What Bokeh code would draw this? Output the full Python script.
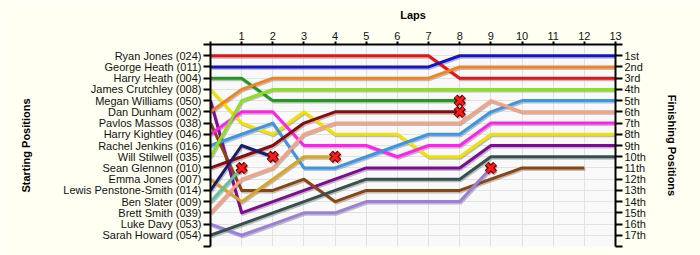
from bokeh.plotting import figure
from bokeh.models import Range1d, LinearAxis, FixedTicker
from bokeh.embed import file_html
from bokeh.resources import INLINE

# ---------------- data ----------------
laps = list(range(14))
lap_tick_labels = ["", "1", "2", "3", "4", "5", "6", "7", "8", "9", "10", "11", "12", "13"]

drivers = ["Ryan Jones (024)", "George Heath (011)", "Harry Heath (004)", "James Crutchley (008)",
           "Megan Williams (050)", "Dan Dunham (002)", "Pavlos Massos (038)", "Harry Kightley (046)",
           "Rachel Jenkins (016)", "Will Stilwell (035)", "Sean Glennon (010)", "Emma Jones (007)",
           "Lewis Penstone-Smith (014)", "Ben Slater (009)", "Brett Smith (039)", "Luke Davy (053)",
           "Sarah Howard (054)"]
finish_labels = ["1st", "2nd", "3rd", "4th", "5th", "6th", "7th", "8th", "9th", "10th",
                 "11th", "12th", "13th", "14th", "15th", "16th", "17th"]

colors = ["#E41414", "#1414CC", "#229A22", "#F2E200", "#7E0A96", "#F5821F", "#8B4513", "#FF22EE",
          "#3A96E8", "#8CE01E", "#8B0A0A", "#DAA520", "#1C1C6E", "#5EC4A2", "#F8A080", "#9A80DC",
          "#35504E"]

pos_ryan     = [1, 1, 1, 1, 1, 1, 1, 1, 3, 3, 3, 3, 3, 3]
pos_george   = [2, 2, 2, 2, 2, 2, 2, 2, 1, 1, 1, 1, 1, 1]
pos_harryh   = [3, 3, 5, 5, 5, 5, 5, 5, 5]
pos_james    = [4, 7, 8, 6, 8, 8, 8, 10, 10, 8, 8, 8, 8, 8]
pos_megan    = [5, 15, 14, 13, 12, 11, 11, 11, 11, 9, 9, 9, 9, 9]
pos_dan      = [6, 4, 3, 3, 3, 3, 3, 3, 2, 2, 2, 2, 2, 2]
pos_pavlos   = [7, 13, 13, 12, 14, 13, 13, 13, 13, 12, 11, 11, 11]
pos_kightley = [8, 6, 6, 9, 9, 9, 10, 9, 9, 7, 7, 7, 7, 7]
pos_rachel   = [9, 8, 7, 11, 11, 10, 9, 8, 8, 6, 5, 5, 5, 5]
pos_will     = [10, 5, 4, 4, 4, 4, 4, 4, 4, 4, 4, 4, 4, 4]
pos_sean     = [11, 10, 9, 7, 6, 6, 6, 6, 6]
pos_emma     = [12, 14, 12, 10, 10]
pos_lewis    = [13, 9, 10]
pos_ben      = [14, 11]
pos_brett    = [15, 12, 11, 8, 7, 7, 7, 7, 7, 5, 6, 6, 6, 6]
pos_luke     = [16, 17, 16, 15, 15, 14, 14, 14, 14, 11]
pos_sarah    = [17, 16, 15, 14, 13, 12, 12, 12, 12, 10, 10, 10, 10, 10]

retired = [False, False, True, False, False, False, False, False, False, False,
           True, True, True, True, False, True, False]

all_pos = [pos_ryan, pos_george, pos_harryh, pos_james, pos_megan, pos_dan, pos_pavlos,
           pos_kightley, pos_rachel, pos_will, pos_sean, pos_emma, pos_lewis, pos_ben,
           pos_brett, pos_luke, pos_sarah]

# ---------------- figure ----------------
FONT = "Liberation Sans"
p = figure(width=700, height=255, output_backend="svg", toolbar_location=None,
           x_range=Range1d(0, 13), y_range=Range1d(18, 0),
           x_axis_location="above", y_axis_location="left",
           min_border_left=210, min_border_right=85, min_border_top=44, min_border_bottom=9)
p.border_fill_color = "#FFFFF2"
p.background_fill_color = "#F9F9F9"
p.outline_line_color = None

# axes
def style_axis(ax):
    ax.axis_line_width = 2
    ax.axis_line_color = "black"
    ax.major_tick_line_width = 2
    ax.major_tick_line_color = "black"
    ax.minor_tick_line_color = None
    ax.major_tick_in = 0
    ax.major_label_text_font = FONT
    ax.major_label_text_font_size = "11px"
    ax.major_label_text_color = "#111111"
    ax.axis_label_text_font = FONT
    ax.axis_label_text_font_size = "11px"
    ax.axis_label_text_font_style = "bold"
    ax.axis_label_text_color = "black"

xa = p.xaxis[0]
style_axis(xa)
xa.ticker = FixedTicker(ticks=laps)
xa.major_label_overrides = {l: lap_tick_labels[l] for l in laps}
xa.major_tick_out = 3
xa.major_label_standoff = 2
xa.axis_label = "Laps"
xa.axis_label_standoff = 8

ya = p.yaxis[0]
style_axis(ya)
ya.ticker = FixedTicker(ticks=list(range(19)))
ov = {0: "", 18: ""}
ov.update({i + 1: d for i, d in enumerate(drivers)})
ya.major_label_overrides = ov
ya.major_tick_out = 7
ya.major_label_standoff = 2
ya.axis_label = "Starting Positions"
ya.axis_label_standoff = 28

ra = LinearAxis(y_range_name="default")
style_axis(ra)
ra.ticker = FixedTicker(ticks=list(range(19)))
ov2 = {0: "", 18: ""}
ov2.update({i + 1: f for i, f in enumerate(finish_labels)})
ra.major_label_overrides = ov2
ra.major_tick_out = 7
ra.major_label_standoff = 2
ra.axis_label = "Finishing Positions"
ra.axis_label_standoff = 17
p.add_layout(ra, "right")

# grid
p.xgrid.ticker = FixedTicker(ticks=laps)
p.ygrid.ticker = FixedTicker(ticks=list(range(19)))
p.grid.grid_line_color = "#E2E2E2"
p.grid.grid_line_width = 1

# shadow offsets (in data units, ~1px right, ~1.5px down)
dx = 1.0 / (405 / 13)
dy = 1.5 / (202 / 18)

for pos in all_pos:
    xs = [l + dx for l in laps[:len(pos)]]
    ys = [v + dy for v in pos]
    p.line(xs, ys, line_color="#8a8a8a", line_alpha=0.55, line_width=3, line_join="round")

for pos, c in zip(all_pos, colors):
    p.line(laps[:len(pos)], pos, line_color=c, line_width=3, line_join="round")

for pos, r in zip(all_pos, retired):
    if r:
        x = laps[len(pos) - 1]
        y = pos[-1]
        p.scatter([x + dx], [y + dy], marker="x", size=12, line_width=5, line_color="#777777", line_alpha=0.5)
        p.scatter([x], [y], marker="x", size=12, line_width=5.5, line_color="#600000")
        p.scatter([x], [y], marker="x", size=11, line_width=3, line_color="#FF1A1A")

open("out.html", "w").write(file_html(p, INLINE))
